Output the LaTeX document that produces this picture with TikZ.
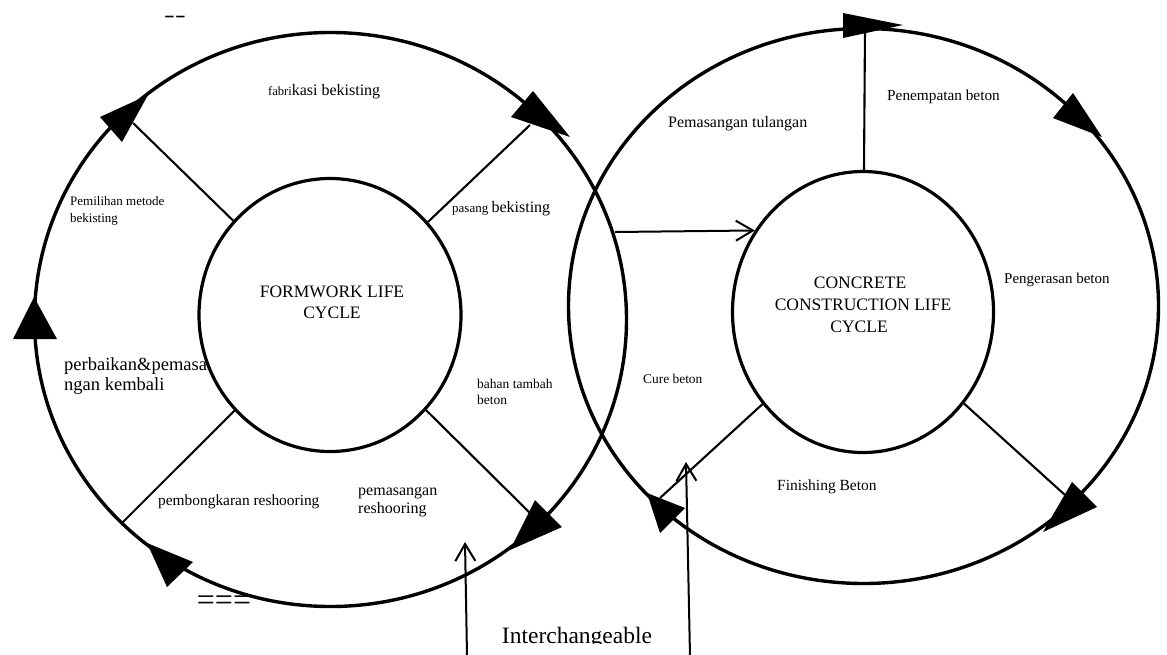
\documentclass[tikz,border=0pt]{standalone}
\usepackage{fontspec}
\setmainfont{Liberation Serif}
\usetikzlibrary{arrows.meta,shapes.geometric}
\begin{document}
\begin{tikzpicture}[x=1pt,y=-1pt,
  ring/.style={draw, ellipse, line width=3.4pt, inner sep=0pt},
  core/.style={draw, ellipse, line width=3.2pt, inner sep=0pt, fill=white, align=center},
  spoke/.style={line width=2.1pt},
  conn/.style={line width=2pt, -{Straight Barb[length=17pt,width=20pt,line width=2pt]}},
  head/.style={fill=black},
  lbl/.style={anchor=base west, inner sep=0pt},
  clbl/.style={anchor=base, inner sep=0pt},
  fs/.style={font=\fontsize{#1}{#1}\selectfont}
]
\useasboundingbox (0,0) rectangle (1167,654);

% outer rings
\node[ring, minimum width=592pt, minimum height=574pt] (lo) at (330.5,319.5) {};
\node[ring, minimum width=590pt, minimum height=555pt] (ro) at (863.5,306) {};

% label partly hidden by inner circle
\node[lbl, fs=18.5] (pb1) at (64,370) {perbaikan\&pemasangan};
\node[lbl, fs=18.5] (pb2) at (64,390) {ngan kembali};

% inner circles
\node[core, minimum width=262pt, minimum height=273pt] (li) at (330,315) {};
\node[core, minimum width=261pt, minimum height=281pt] (ri) at (863,312) {};

% inner circle texts
\node[clbl, fs=17.5] (ft1) at (332,297) {FORMWORK LIFE};
\node[clbl, fs=17.5] (ft2) at (332,318) {CYCLE};
\node[clbl, fs=17.5] (ct1) at (860,288) {CONCRETE};
\node[clbl, fs=17.5] (ct2) at (863,310) {CONSTRUCTION LIFE};
\node[clbl, fs=17.5] (ct3) at (859,332) {CYCLE};

% spoke end points on outer rings
\coordinate (e1) at (133,123);
\coordinate (e2) at (530,125);
\coordinate (e3) at (530,513);
\coordinate (e4) at (122,523);
\coordinate (f1) at (865,28);
\coordinate (f2) at (1065,495);
\coordinate (f3) at (660,498);

\draw[spoke] (li) -- (e1);
\draw[spoke] (li) -- (e2);
\draw[spoke] (li) -- (e3);
\draw[spoke] (li) -- (e4);
\draw[spoke] (ri) -- (f1);
\draw[spoke] (ri) -- (f2);
\draw[spoke] (ri) -- (f3);

% arrowheads on left ring (clockwise)
\fill[head] (148,95) -- (100,117) -- (122,142) -- cycle;
\fill[head] (570,137) -- (511,117) -- (533,91) -- cycle;
\fill[head] (510,550) -- (535,500) -- (562,527) -- cycle;
\fill[head] (147,543) -- (167,587) -- (193,562) -- cycle;
\fill[head] (34,297) -- (13,339) -- (57,339) -- cycle;
% arrowheads on right ring
\fill[head] (903,25) -- (843,13) -- (843,38) -- cycle;
\fill[head] (1102,137) -- (1053,118) -- (1073,93) -- cycle;
\fill[head] (1043,532) -- (1072,482) -- (1097,507) -- cycle;
\fill[head] (647,493) -- (660,533) -- (685,508) -- cycle;

% connectors
\coordinate (h1) at (615,232);
\draw[conn] (h1) -- (ri.143.7);
\coordinate (v1b) at (467,656);
\coordinate (v1t) at (465,542);
\coordinate (v2b) at (690,656);
\coordinate (v2t) at (686,462);
\draw[conn] (v1b) -- (v1t);
\draw[conn] (v2b) -- (v2t);

% labels, left cycle
\node[lbl] (fb) at (268,95) {\fontsize{12.5}{14}\selectfont fabri\fontsize{16}{18}\selectfont kasi bekisting};
\node[lbl] (pg) at (452,212) {\fontsize{13}{15}\selectfont pasang \fontsize{16}{18}\selectfont bekisting};
\node[lbl, fs=13] (pm1) at (70,205) {Pemilihan metode};
\node[lbl, fs=13] (pm2) at (70,222) {bekisting};
\node[lbl, fs=13.5] (bt1) at (477,388) {bahan tambah};
\node[lbl, fs=13.5] (bt2) at (477,404) {beton};
\node[lbl, fs=15.4] (pr) at (158,505) {pembongkaran reshooring};
\node[lbl, fs=16] (ps1) at (358,495) {pemasangan};
\node[lbl, fs=16] (ps2) at (358,513) {reshooring};

% labels, right cycle
\node[lbl, fs=16] (pt) at (668,127) {Pemasangan tulangan};
\node[lbl, fs=15.3] (pn) at (887,100) {Penempatan beton};
\node[lbl, fs=15] (pe) at (1004,283) {Pengerasan beton};
\node[lbl, fs=15.5] (fi) at (777,490) {Finishing Beton};
\node[lbl, fs=13.4] (cb) at (643,383) {Cure beton};

% stray marks
\node[clbl, fs=19] (dd) at (175,21) {\bfseries\scalebox{1.7}[1]{-{}-}};
\node[clbl, fs=32] (eq) at (224,610) {===};

% bottom label, cut at its baseline
\begin{scope}
\clip (0,0) rectangle (1167,643);
\node[clbl, fs=23.5] (ic) at (577,643.5) {Interchangeable};
\end{scope}
\end{tikzpicture}
\end{document}
